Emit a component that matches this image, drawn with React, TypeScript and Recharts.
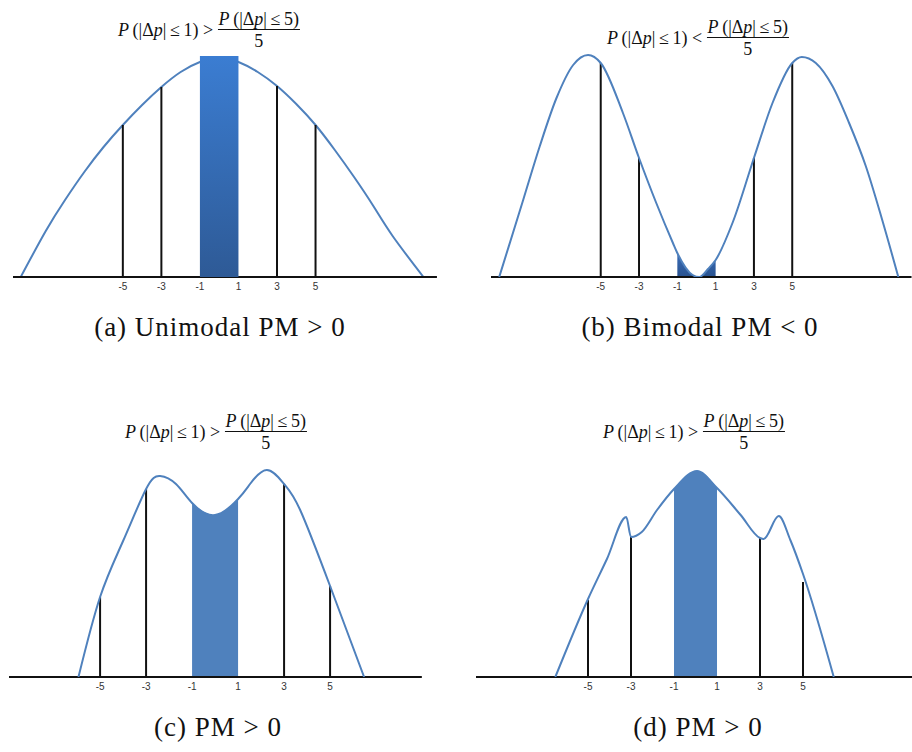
import { Area, ComposedChart, Line, ReferenceLine, XAxis, YAxis } from 'recharts';

type Pt = { x: number; y: number };
type Stem = { x: number; h: number };

const tickValues = [-5, -3, -1, 1, 3, 5];

// (a) unimodal: one broad hump, box over [-1, 1]
const curveA: Pt[] = [
  { x: -10.3, y: 0 }, { x: -9, y: 46 }, { x: -8, y: 77 }, { x: -7, y: 105 },
  { x: -6, y: 130 }, { x: -5, y: 152 }, { x: -4, y: 172 }, { x: -3, y: 190 },
  { x: -2, y: 205 }, { x: -1, y: 215 }, { x: 0, y: 219 }, { x: 1, y: 215 },
  { x: 2, y: 205 }, { x: 3, y: 191 }, { x: 4, y: 173 }, { x: 5, y: 152 },
  { x: 6, y: 127 }, { x: 7, y: 100 }, { x: 8, y: 71 }, { x: 9, y: 41 },
  { x: 10.6, y: 0 },
];
const stemsA: Stem[] = [{ x: -5, h: 152 }, { x: -3, h: 190 }, { x: 3, h: 191 }, { x: 5, h: 152 }];
const boxA: Pt[] = [{ x: -1, y: 221 }, { x: 1, y: 221 }];

// (b) bimodal: two humps, trough at zero
const curveB: Pt[] = [
  { x: -10.3, y: 0 }, { x: -9.05, y: 77 }, { x: -8.18, y: 131 }, { x: -7.31, y: 179 },
  { x: -6.44, y: 212 }, { x: -5.66, y: 222 }, { x: -5, y: 214 }, { x: -3.84, y: 164 },
  { x: -3, y: 119 }, { x: -2.1, y: 74 }, { x: -1.23, y: 34 }, { x: -1, y: 24 },
  { x: -0.2, y: 2 }, { x: 0.15, y: 0 }, { x: 0.6, y: 8 }, { x: 1, y: 17 },
  { x: 1.9, y: 55 }, { x: 3, y: 119 }, { x: 3.97, y: 174 }, { x: 5, y: 214 },
  { x: 5.5, y: 220 }, { x: 6.23, y: 214 }, { x: 7.1, y: 191 }, { x: 7.97, y: 154 },
  { x: 8.84, y: 111 }, { x: 9.7, y: 57 }, { x: 10.54, y: 0 },
];
const stemsB: Stem[] = [{ x: -5, h: 214 }, { x: -3, h: 119 }, { x: 3, h: 119 }, { x: 5, h: 214 }];

// (c) two shoulders with a shallow dip in the middle
const curveC: Pt[] = [
  { x: -5.94, y: 0 }, { x: -5, y: 80 }, { x: -4, y: 136 }, { x: -3, y: 188 },
  { x: -2.39, y: 201 }, { x: -1.7, y: 193 }, { x: -1, y: 174 }, { x: 0, y: 162 },
  { x: 1, y: 178 }, { x: 1.52, y: 193 }, { x: 2.25, y: 207 }, { x: 3, y: 193 },
  { x: 3.7, y: 167 }, { x: 5, y: 91 }, { x: 6.48, y: 0 },
];
const stemsC: Stem[] = [{ x: -5, h: 80 }, { x: -3, h: 188 }, { x: 3, h: 193 }, { x: 5, h: 91 }];

// (d) central peak with two small side bumps
const curveD: Pt[] = [
  { x: -6.52, y: 0 }, { x: -5, y: 78 }, { x: -4.12, y: 118 }, { x: -3.22, y: 160 },
  { x: -3, y: 140 }, { x: -2.5, y: 145 }, { x: -1.79, y: 167 }, { x: -1, y: 188 },
  { x: 0.07, y: 206 }, { x: 1, y: 189 }, { x: 2.1, y: 162 }, { x: 3, y: 139 },
  { x: 3.17, y: 138 }, { x: 3.87, y: 161 }, { x: 4.41, y: 137 }, { x: 5, y: 103 },
  { x: 6.43, y: 0 },
];
const stemsD: Stem[] = [{ x: -5, h: 77 }, { x: -3, h: 140 }, { x: 3, h: 139 }, { x: 5, h: 95 }];

const inCentre = (c: Pt[]) => c.filter((p) => p.x >= -1 && p.x <= 1);

const CURVE = '#4f81bd';
const SERIF = '"Liberation Serif", "Times New Roman", serif';

type CurveType = 'linear' | 'monotone' | 'natural';

type PanelProps = {
  id: string;
  curve: Pt[];
  curveType: CurveType;
  stems: Stem[];
  shade: Pt[];
  shadeType: CurveType;
  fill: string;
  left: number;
  baseline: number;
  domain: [number, number];
  ppu: number;
  yMax: number;
  boxOnTop?: boolean;
};

function Panel({ id, curve, curveType, stems, shade, shadeType, fill, left, baseline, domain, ppu, yMax, boxOnTop }: PanelProps) {
  const width = (domain[1] - domain[0]) * ppu;
  const axisH = 30;
  const line = (
    <Line
      key="curve"
      data={curve}
      dataKey="y"
      type={curveType}
      stroke={CURVE}
      strokeWidth={2}
      dot={false}
      activeDot={false}
      isAnimationActive={false}
      zIndex={boxOnTop ? 100 : 600}
    />
  );
  const area = (
    <Area
      key="shade"
      data={shade}
      dataKey="y"
      type={shadeType}
      fill={fill}
      fillOpacity={1}
      stroke="none"
      isAnimationActive={false}
      zIndex={boxOnTop ? 700 : 50}
    />
  );
  return (
    <div style={{ position: 'absolute', left, top: baseline - yMax }}>
      <ComposedChart width={width} height={yMax + axisH} margin={{ top: 0, right: 0, bottom: 0, left: 0 }}>
        <defs>
          <linearGradient id={`grad-${id}`} x1="0" y1="0" x2="0" y2="1">
            <stop offset="0%" stopColor={id === 'a' ? '#3b7dd2' : '#3a6cb8'} />
            <stop offset="100%" stopColor={id === 'a' ? '#2e5a96' : '#28528f'} />
          </linearGradient>
        </defs>
        <XAxis
          type="number"
          dataKey="x"
          domain={domain}
          ticks={tickValues}
          allowDataOverflow
          height={axisH}
          axisLine={{ stroke: '#111', strokeWidth: 2 }}
          tickLine={false}
          tickSize={6}
          tickMargin={0}
          tick={{ fontSize: 10, fill: '#333', fontFamily: '"Liberation Sans", Arial, sans-serif' }}
          interval={0}
        />
        <YAxis hide type="number" domain={[0, yMax]} allowDataOverflow />
        {stems.map((s) => (
          <ReferenceLine
            key={`${id}-${s.x}`}
            segment={[{ x: s.x, y: 0 }, { x: s.x, y: s.h }]}
            stroke="#111"
            strokeWidth={2}
            ifOverflow="visible"
          />
        ))}
        {boxOnTop ? [line, area] : [area, line]}
      </ComposedChart>
    </div>
  );
}

function Formula({ op, cx, cy }: { op: string; cx: number; cy: number }) {
  return (
    <div
      style={{
        position: 'absolute',
        left: cx,
        top: cy,
        transform: 'translate(-50%, -50%)',
        display: 'flex',
        alignItems: 'center',
        fontFamily: SERIF,
        fontSize: 18,
        whiteSpace: 'nowrap',
        color: '#111',
      }}
    >
      <span>
        <i>P</i>&thinsp;(|Δ<i>p</i>|&thinsp;≤&thinsp;1)&nbsp;{op}&nbsp;
      </span>
      <span style={{ display: 'inline-flex', flexDirection: 'column', alignItems: 'center', lineHeight: '16px' }}>
        <span style={{ borderBottom: '1px solid #111', padding: '0 1px 2px' }}>
          <i>P</i>&thinsp;(|Δ<i>p</i>|&thinsp;≤&thinsp;5)
        </span>
        <span style={{ paddingTop: 3 }}>5</span>
      </span>
    </div>
  );
}

function Caption({ text, cx, cy }: { text: string; cx: number; cy: number }) {
  return (
    <div
      style={{
        position: 'absolute',
        left: cx,
        top: cy,
        transform: 'translate(-50%, -50%)',
        fontFamily: SERIF,
        fontSize: 27,
        letterSpacing: 1,
        whiteSpace: 'nowrap',
        color: '#111',
      }}
    >
      {text}
    </div>
  );
}

export default function App() {
  return (
    <div style={{ position: 'absolute', left: 0, top: 0, width: 912, height: 752, background: '#fff', overflow: 'hidden' }}>
      <Formula op=">" cx={209} cy={30} />
      <Formula op="<" cx={698} cy={38} />
      <Formula op=">" cx={216} cy={432} />
      <Formula op=">" cx={694} cy={432} />

      <Panel id="a" curve={curveA} curveType="natural" stems={stemsA} shade={boxA} shadeType="linear" fill="url(#grad-a)"
        left={13} baseline={276.5} domain={[-10.7, 11.3]} ppu={19.27} yMax={232} boxOnTop />
      <Panel id="b" curve={curveB} curveType="monotone" stems={stemsB} shade={inCentre(curveB)} shadeType="monotone" fill="url(#grad-b)"
        left={491} baseline={277} domain={[-10.73, 11.23]} ppu={19.15} yMax={232} />
      <Panel id="c" curve={curveC} curveType="natural" stems={stemsC} shade={inCentre(curveC)} shadeType="natural" fill={CURVE}
        left={9} baseline={676.7} domain={[-8.96, 8.99]} ppu={23} yMax={232} />
      <Panel id="d" curve={curveD} curveType="monotone" stems={stemsD} shade={inCentre(curveD)} shadeType="monotone" fill={CURVE}
        left={476} baseline={676.7} domain={[-10.21, 10.07]} ppu={21.5} yMax={232} />

      <Caption text="(a) Unimodal PM > 0" cx={220} cy={327} />
      <Caption text="(b) Bimodal PM < 0" cx={700} cy={327} />
      <Caption text="(c) PM > 0" cx={218} cy={727} />
      <Caption text="(d) PM > 0" cx={698} cy={727} />
    </div>
  );
}
